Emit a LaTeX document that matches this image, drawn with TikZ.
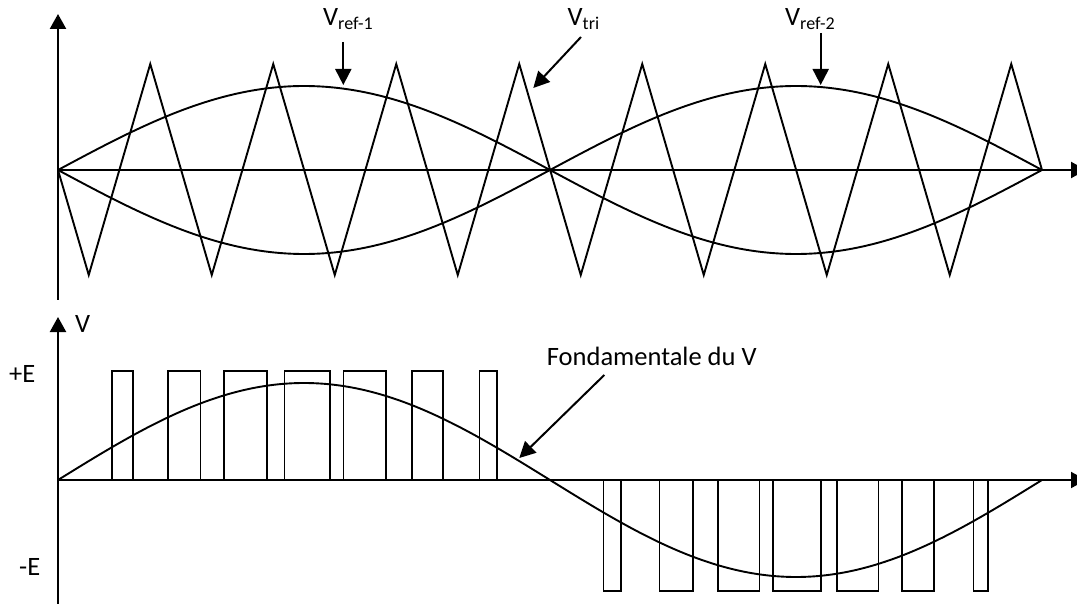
\documentclass[tikz,border=0pt]{standalone}
\usepackage{fontspec}
\setmainfont{Carlito}
\usetikzlibrary{arrows.meta}
\begin{document}
\begin{tikzpicture}[x=1pt,y=-1pt,
  axis/.style={line width=2.4pt},
  axarrow/.style={axis,-{Triangle[width=16pt,length=15pt]}},
  wave/.style={line width=1.9pt},
  pulse/.style={line width=1.6pt},
  callout/.style={line width=2pt,-{Triangle[width=16pt,length=16pt]}},
  lbl/.style={inner sep=0pt, font=\fontsize{26.5}{30}\selectfont},
]
\clip (0,0) rectangle (1077,604);
% ---------- top plot ----------
\coordinate (t0) at (58,300);
\coordinate (t1) at (58,14);
\coordinate (h0) at (58,170);
\coordinate (h1) at (1086,170);
\draw[axarrow] (t0) -- (t1);
\draw[axarrow] (h0) -- (h1);
% triangle carrier
\draw[wave] (58,170) \foreach \m in {0,...,7} { -- ({88.75+123*\m},275) -- ({150.25+123*\m},64) } -- (1042,170);
% references
\draw[wave] plot[domain=58:1042, samples=160, smooth] (\x, {170-84*sin((\x-58)/492*180)});
\draw[wave] plot[domain=58:1042, samples=160, smooth] (\x, {170+84*sin((\x-58)/492*180)});
% labels
\node[lbl, anchor=base west] (vr1) at (323,26) {V\raisebox{-4pt}{\fontsize{18}{20}\selectfont ref-1}};
\node[lbl, anchor=base west] (vtri) at (567.5,26) {V\raisebox{-4pt}{\fontsize{18}{20}\selectfont tri}};
\node[lbl, anchor=base west] (vr2) at (785,26) {V\raisebox{-4pt}{\fontsize{18}{20}\selectfont ref-2}};
\coordinate (a1s) at (343.3,42);
\coordinate (a1e) at (343.3,85);
\coordinate (a2s) at (581,37);
\coordinate (a2e) at (533.3,88);
\coordinate (a3s) at (820.7,33);
\coordinate (a3e) at (820.7,85);
\draw[callout] (a1s) -- (a1e);
\draw[callout] (a2s) -- (a2e);
\draw[callout] (a3s) -- (a3e);
% ---------- bottom plot ----------
\coordinate (b0) at (58,606);
\coordinate (b1) at (58,317);
\coordinate (g0) at (58,480);
\coordinate (g1) at (1086,480);
\draw[axarrow,line width=2.2pt] (b0) -- (b1);
\draw[axarrow,line width=2pt] (g0) -- (g1);
\foreach \a/\b in {111.7/132.7, 167.7/200.3, 224/266.7, 284.3/330, 343.3/385.7, 411.7/442.7, 479.3/496.7}
  \draw[pulse] (\a,480) rectangle (\b,371);
\foreach \a/\b in {603.3/621, 659.3/692.7, 717.7/759.3, 772.7/820.7, 836.7/878.3, 901.7/934, 973.3/987.7}
  \draw[pulse] (\a,480) rectangle (\b,591);
\draw[wave] plot[domain=58:1042, samples=160, smooth] (\x, {480-97*sin((\x-58)/492*180)});
\node[lbl, anchor=base west] (vlab) at (75,333) {V};
\node[lbl, anchor=base west] (pe) at (9,382) {+E};
\node[lbl, anchor=base west] (me) at (19,575.5) {-E};
\node[lbl, anchor=base west] (fund) at (546.7,365) {Fondamentale du V};
\coordinate (a4s) at (604.3,375);
\coordinate (a4e) at (519.3,458);
\draw[callout] (a4s) -- (a4e);
\end{tikzpicture}
\end{document}
